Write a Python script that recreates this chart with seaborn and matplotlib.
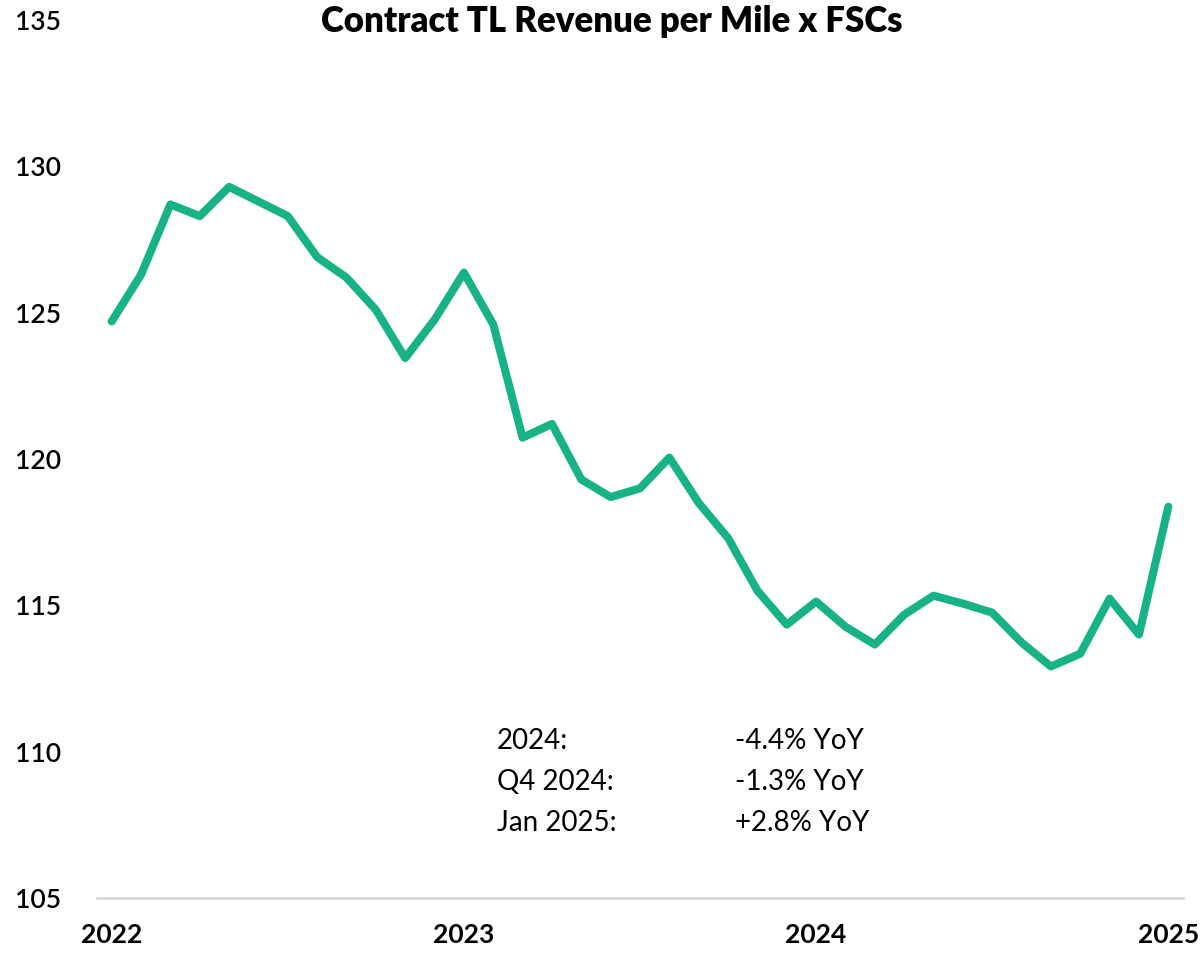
import matplotlib
matplotlib.use("Agg")
import matplotlib.pyplot as plt
import seaborn as sns
import pandas as pd

# Данные: помесячно, январь 2022 - январь 2025
months = pd.date_range("2022-01-01", "2025-01-01", freq="MS")
revenue = [
    124.7, 126.3, 128.7, 128.3, 129.3, 128.8, 128.3, 126.9, 126.2, 125.1, 123.45, 124.76,
    126.37, 124.6, 120.73, 121.2, 119.3, 118.7, 119.0, 120.05, 118.5, 117.3, 115.5, 114.34,
    115.13, 114.27, 113.66, 114.68, 115.33, 115.06, 114.75, 113.73, 112.91, 113.35, 115.23, 114.0,
    118.37,
]
year_labels = ["2022", "2023", "2024", "2025"]
y_ticks = [105, 110, 115, 120, 125, 130, 135]
note_labels = ["2024:", "Q4 2024:", "Jan 2025:"]
note_values = ["-4.4% YoY", "-1.3% YoY", "+2.8% YoY"]

df = pd.DataFrame({"idx": range(len(months)), "revenue": revenue})

sns.set_style("white")
plt.rcParams["font.family"] = ["Lato", "DejaVu Sans"]

fig = plt.figure(figsize=(12.02, 9.55), dpi=100)
ax = fig.add_axes([0.0807, 0.0597, 0.9035, 0.9193])

sns.lineplot(data=df, x="idx", y="revenue", ax=ax, color="#17B387",
             linewidth=5.8, solid_joinstyle="round", solid_capstyle="round")

ax.set_xlim(-0.5, len(months) - 0.5)
ax.set_ylim(105, 135)
ax.set_yticks(y_ticks)
ax.set_yticklabels([str(v) for v in y_ticks], fontsize=19, fontweight="semibold",
                   color="black")

# подписи лет по январям, засечки между категориями
ax.set_xticks([0, 12, 24, 36])
ax.set_xticklabels(year_labels, fontsize=19, fontweight="bold", color="black")
ax.set_xticks([-0.5, 11.5, 23.5, 35.5], minor=True)
ax.tick_params(axis="x", which="major", length=0, pad=18)
ax.tick_params(axis="x", which="minor", length=10, width=1.5, color="#C8C8C8",
               direction="in")
ax.tick_params(axis="y", length=0, pad=26)

ax.set_xlabel("")
ax.set_ylabel("")
for side in ["left", "right", "top"]:
    ax.spines[side].set_visible(False)
ax.spines["bottom"].set_color("#D9D9D9")
ax.spines["bottom"].set_linewidth(2)

fig.text(0.509, 0.977, "Contract TL Revenue per Mile x FSCs", ha="center", va="center",
         fontsize=25, fontweight="heavy", color="black")

for i, (lab, val) in enumerate(zip(note_labels, note_values)):
    y = 1 - (741 + i * 41) / 955
    fig.text(497 / 1202, y, lab, fontsize=20, va="center", color="black")
    fig.text(735 / 1202, y, val, fontsize=20, va="center", color="black")

fig.savefig("out.png", dpi=100)
